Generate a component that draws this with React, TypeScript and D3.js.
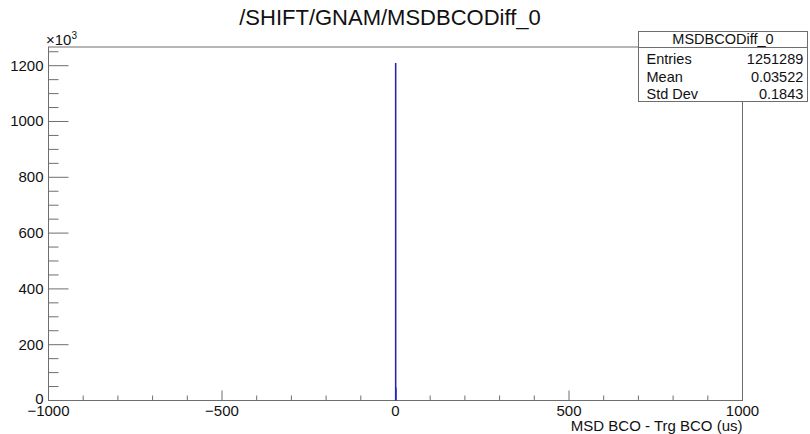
import React from "react";
import * as d3 from "d3";

// histogram contents (bin low edge -> entries), bin width 1 us
const binEdges = [0, 1];
const binCounts = [1207219, 44070];
const binWidth = 1;

const xTicksMajor = [-1000, -500, 0, 500, 1000];
const yTicksMajor = [0, 200, 400, 600, 800, 1000, 1200];

const title = "/SHIFT/GNAM/MSDBCODiff_0";
const xTitle = "MSD BCO - Trg BCO (us)";
const statsName = "MSDBCODiff_0";
const statsRows = [
  ["Entries", "1251289"],
  ["Mean", "0.03522"],
  ["Std Dev", "0.1843"],
];

const W = 810;
const H = 434;
const font = "'Liberation Sans', Arial, sans-serif";
const axisColor = "#6e6e6e";

const App = () => {
  const left = 48.5;
  const right = 742.5;
  const top = 47;
  const bottom = 400.5;

  const x = d3.scaleLinear().domain([-1000, 1000]).range([left, right]);
  // y in thousands of entries
  const y = d3.scaleLinear().domain([0, 1267]).range([bottom, top]);

  const xMinor = d3.range(-1000, 1001, 100);
  const yMinor = d3.range(0, 1267, 50);

  // outline of the histogram (step shape)
  const pts: [number, number][] = [];
  binEdges.forEach((e, i) => {
    const v = binCounts[i] / 1000;
    if (i === 0) pts.push([e, 0]);
    pts.push([e, v]);
    pts.push([e + binWidth, v]);
  });
  pts.push([binEdges[binEdges.length - 1] + binWidth, 0]);
  const line = d3
    .line<[number, number]>()
    .x((d) => x(d[0]))
    .y((d) => y(d[1]));

  const boxL = 638.5;
  const boxR = 807.5;
  const boxT = 31.5;
  const boxMid = 47.5;
  const boxB = 101.5;

  return (
    <svg
      width={W}
      height={H}
      style={{ position: "absolute", left: 0, top: 0, background: "#fff" }}
      fontFamily={font}
    >
      <rect x={0} y={0} width={W} height={H} fill="#fff" />
      <text x={390} y={25} textAnchor="middle" fontSize={22} fill="#111">
        {title}
      </text>

      {/* frame */}
      <rect
        x={left}
        y={top}
        width={right - left}
        height={bottom - top}
        fill="none"
        stroke={axisColor}
        strokeWidth={1}
      />

      {/* x ticks */}
      {xMinor.map((t) => (
        <line
          key={"xm" + t}
          x1={x(t)}
          x2={x(t)}
          y1={bottom}
          y2={bottom - (xTicksMajor.includes(t) ? 10 : 5)}
          stroke={axisColor}
        />
      ))}
      {xTicksMajor.map((t) => (
        <text
          key={"xl" + t}
          x={x(t)}
          y={416}
          textAnchor="middle"
          fontSize={15}
          fill="#111"
        >
          {t < 0 ? "\u2212" + Math.abs(t) : t}
        </text>
      ))}
      <text x={right} y={430.5} textAnchor="end" fontSize={15} fill="#111">
        {xTitle}
      </text>

      {/* y ticks */}
      {yMinor.map((t) => (
        <line
          key={"ym" + t}
          x1={left}
          x2={left + (yTicksMajor.includes(t) ? 20 : 10)}
          y1={y(t)}
          y2={y(t)}
          stroke={axisColor}
        />
      ))}
      {yTicksMajor.map((t) => (
        <text
          key={"yl" + t}
          x={43.5}
          y={t === 0 ? y(t) + 3 : y(t) + 5}
          textAnchor="end"
          fontSize={15}
          fill="#111"
        >
          {t}
        </text>
      ))}
      <text x={46} y={45} fontSize={15} fill="#111">
        {"\u00d710"}
        <tspan dy={-6} fontSize={10}>
          3
        </tspan>
      </text>

      {/* histogram */}
      <path d={line(pts) ?? ""} fill="none" stroke="#2323b8" strokeWidth={1.2} />

      {/* stats box */}
      <rect
        x={boxL}
        y={boxT}
        width={boxR - boxL}
        height={boxB - boxT}
        fill="#fff"
        stroke={axisColor}
      />
      <line x1={boxL} x2={boxR} y1={boxMid} y2={boxMid} stroke={axisColor} />
      <text
        x={(boxL + boxR) / 2}
        y={44.3}
        textAnchor="middle"
        fontSize={14.5}
        fill="#111"
      >
        {statsName}
      </text>
      {statsRows.map((r, i) => (
        <g key={r[0]}>
          <text x={646.5} y={64.3 + i * 17.4} fontSize={14.5} fill="#111">
            {r[0]}
          </text>
          <text
            x={803.3}
            y={64.3 + i * 17.4}
            textAnchor="end"
            fontSize={14.5}
            fill="#111"
          >
            {r[1]}
          </text>
        </g>
      ))}
    </svg>
  );
};

export default App;
